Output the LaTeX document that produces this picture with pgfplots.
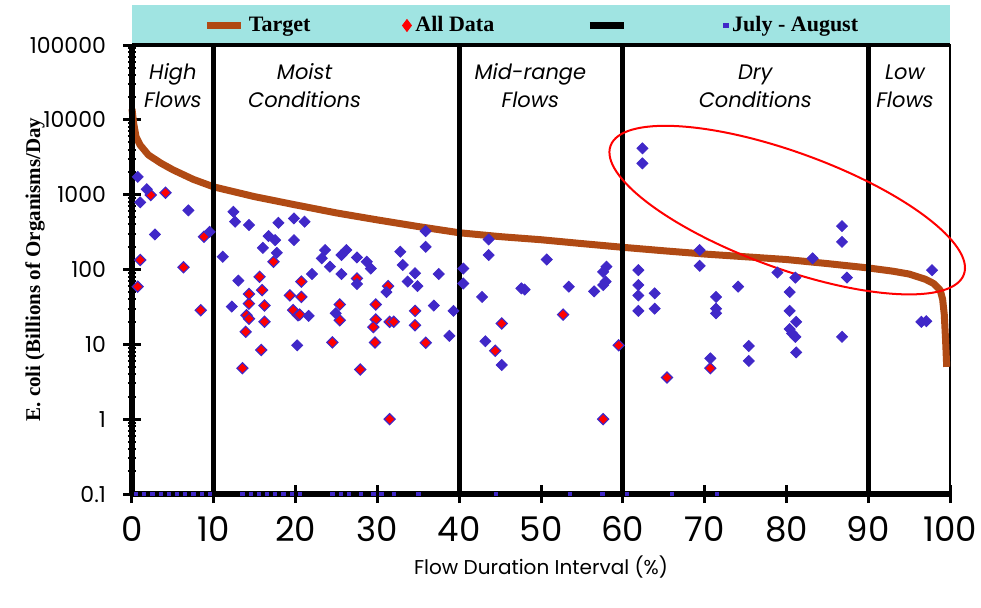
\documentclass[border=0pt]{standalone}
\usepackage{fontspec}
\setmainfont{Poppins}
\newfontfamily\tnr{Liberation Serif}
\usepackage{pgfplots}
\usepackage{pgfplotstable}
\pgfplotsset{compat=1.18}
\definecolor{targetbrown}{RGB}{176,74,20}
\definecolor{ptblue}{RGB}{64,40,200}
\definecolor{legcyan}{RGB}{160,228,226}

% target load curve
\pgfplotstableread{
x y
0 14000
0.2 9000
0.5 5900
1 4600
2 3400
3.5 2650
5 2150
7.5 1600
10 1270
15 940
20 730
25 570
30 460
35 375
40 310
45 275
50 250
55 222
60 198
65 178
70 161
75 148
80 136
85 120
90 105
93 95
95 87
97 74
98 65
98.8 53
99.1 40
99.3 25
99.45 12
99.6 5
}\target

% all data (red)
\pgfplotstableread{
x y
0.7 59
1.0 134
2.3 990
4.1 1060
6.3 107
8.4 28.6
8.8 274
13.5 4.8
13.9 14.7
14.0 24.5
14.3 22
14.3 35
14.3 47
15.6 80
15.8 8.4
15.9 53
16.2 33
16.2 20
17.3 127
19.3 45
19.7 28.7
20.3 24.5
20.7 69
20.7 43
20.5 25
24.5 10.6
25.4 34
25.4 21
27.5 76
27.9 4.6
29.8 34
29.8 21.5
29.5 17
29.7 10.6
31.3 60
31.5 1.0
31.5 20
32.0 20
34.6 28
34.6 18
35.9 10.5
44.4 8.2
45.2 19
52.7 25
57.6 1.0
59.5 9.7
65.4 3.6
70.7 4.8
}\alldata

% july - august (blue)
\pgfplotstableread{
x y
0.7 1730
1.8 1180
1.0 790
6.9 617
2.8 294
9.5 319
12.4 591
12.6 435
14.3 393
17.9 421
19.8 482
16.7 280
17.5 247
16.0 195
19.8 247
17.7 167
11.1 148
13.0 71
12.2 32
20.2 9.7
21.1 435
23.6 182
23.2 141
24.2 109
25.6 156
26.2 182
27.5 145
28.7 127
29.2 103
25.6 87
22.0 87
27.5 64
21.6 24
24.9 26
31.1 50
32.8 173
33.1 115
33.7 69
34.6 89
34.9 60
35.9 326
35.9 201
37.5 87
36.9 33
39.3 28
38.8 13
40.5 103
40.5 65
43.6 252
43.6 156
42.8 43
43.2 11
45.2 5.3
47.6 56
48.0 54
50.7 136
53.4 59
56.5 51
57.6 62
57.6 93
58.0 109
57.9 69
62.4 4160
62.4 2620
61.9 98
61.9 62
61.9 45
61.9 28
63.9 48
63.9 30
69.4 182
69.4 112
71.4 43
71.4 30
71.4 26
70.7 6.5
74.1 59
75.4 9.5
75.4 6.0
78.9 91
80.4 50
80.4 28
81.1 78
81.2 20
80.4 16
81.1 12.6
80.7 14
81.2 7.8
83.2 141
86.8 380
86.8 234
87.4 78
86.8 12.6
97.8 98
96.5 20
97.1 20.4
}\julyaug

% samples below detection, plotted at 0.1
\pgfplotstableread{
x y
0.5 0.1
1.5 0.1
2.5 0.1
3.5 0.1
4.5 0.1
5.5 0.1
6.5 0.1
7.5 0.1
8.5 0.1
9.5 0.1
13.5 0.1
14.5 0.1
15.5 0.1
16.5 0.1
17.5 0.1
18.5 0.1
19.5 0.1
20.5 0.1
24.5 0.1
25.5 0.1
26.5 0.1
28 0.1
29.5 0.1
30.5 0.1
32 0.1
35 0.1
44.5 0.1
53.5 0.1
57.5 0.1
60.5 0.1
66 0.1
71.5 0.1
}\nondetect

\begin{document}
\begin{tikzpicture}
\begin{axis}[
  scale only axis, width=409pt, height=224.5pt,
  clip=false,
  xmin=0, xmax=100,
  ymode=log, ymin=0.1, ymax=100000,
  xtick={0,10,...,100},
  ytick={0.1,1,10,100,1000,10000,100000},
  yticklabels={0.1,1,10,100,1000,10000,100000},
  /pgf/number format/assume math mode=true,
  xtick pos=bottom, ytick pos=left,
  tick align=center,
  major tick length=9pt, minor tick length=4pt,
  every tick/.style={black, line width=1.5pt},
  every minor tick/.append style={line width=1pt},
  axis line style={line width=1.25pt},
  xticklabel style={font=\fontsize{17}{17}\selectfont, yshift=-3pt},
  yticklabel style={font=\fontsize{11}{11}\selectfont, xshift=-5pt},
  xlabel={Flow Duration Interval (\%)},
  xlabel style={font=\fontsize{10}{12}\selectfont},
  ylabel={E. coli (Billions of Organisms/Day},
  ylabel style={at={([xshift=-48.5pt]rel axis cs:0,0.5)}, anchor=center,
    font=\tnr\bfseries\fontsize{10.5}{12}\selectfont},
  legend columns=4,
  legend style={at={(0.5,1)}, anchor=south, yshift=1pt, xshift=-4pt, draw=none, fill=none,
    font=\tnr\bfseries\fontsize{11}{13}\selectfont,
    /tikz/every even column/.append style={column sep=44pt}},
]
\addlegendimage{targetbrown, line width=3.5pt}
\addlegendentry{Target}
\addlegendimage{only marks, mark=diamond*, mark size=3pt, red}
\addlegendentry{All Data}
\addlegendimage{black, line width=3.5pt}
\addlegendentry{}
\addlegendimage{only marks, mark=square*, mark size=1.2pt, ptblue}
\addlegendentry{July - August}

% legend band
\fill[legcyan] ([yshift=1pt]rel axis cs:0,1) rectangle ([yshift=20pt]rel axis cs:1,1);

\addplot[forget plot, targetbrown, line width=3.5pt, line join=round] table {\target};
\addplot[forget plot, only marks, mark=square*, mark size=1.95pt,
  mark options={rotate=45, fill=red, draw=ptblue, line width=0.6pt}] table {\alldata};
\addplot[forget plot, only marks, mark=square*, mark size=1.95pt,
  mark options={rotate=45, fill=ptblue, draw=ptblue}] table {\julyaug};
\addplot[forget plot, only marks, mark=square*, mark size=0.8pt,
  mark options={fill=ptblue, draw=ptblue}] table {\nondetect};

% flow regime dividers
\addplot[forget plot, black, line width=2.5pt] coordinates {(10,0.1) (10,100000)};
\addplot[forget plot, black, line width=2.5pt] coordinates {(40,0.1) (40,100000)};
\addplot[forget plot, black, line width=2.5pt] coordinates {(60,0.1) (60,100000)};
\addplot[forget plot, black, line width=2.5pt] coordinates {(90,0.1) (90,100000)};

\draw[line width=3pt] (rel axis cs:0,0) -- (rel axis cs:0,1);
\draw[line width=3pt] (rel axis cs:0,0) -- (rel axis cs:1,0);
\draw[line width=2pt] (rel axis cs:0,1) -- (rel axis cs:1,1);

\draw[red, line width=1pt] (axis cs:80.1,622) ellipse [x radius=94pt, y radius=29pt, rotate=-20];

\begin{scope}[every node/.style={align=center, font=\itshape\fontsize{10.5}{14}\selectfont}]
\node at (axis cs:5,28300) {High\\Flows};
\node at (axis cs:21.1,28300) {Moist\\Conditions};
\node at (axis cs:48.7,28300) {Mid-range\\Flows};
\node at (axis cs:76.2,28300) {Dry\\Conditions};
\node at (axis cs:94.5,28300) {Low\\Flows};
\end{scope}

\coordinate (ll) at (rel axis cs:0,0);
\end{axis}
\pgfresetboundingbox
\path ([shift={(-66pt,-56.5pt)}]ll) rectangle ([shift={(424.5pt,247pt)}]ll);
\end{tikzpicture}
\end{document}
